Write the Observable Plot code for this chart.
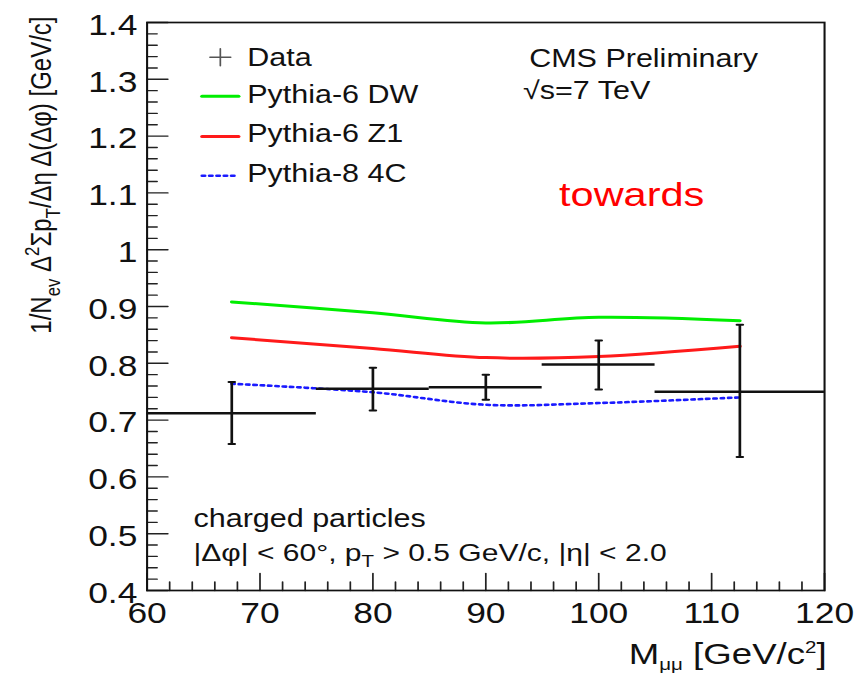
<!DOCTYPE html>
<html><head><meta charset="utf-8">
<script src="https://cdn.jsdelivr.net/npm/d3@7"></script>
<script src="https://cdn.jsdelivr.net/npm/@observablehq/plot@0.6"></script>
<style>
html,body{margin:0;padding:0;background:#fff;}
#chart svg{display:block;}
</style></head><body><div id="chart"></div>
<script>
// ---- data ----
const massCenters = [67.5, 80, 90, 100, 112.5];
const binLow      = [60, 75, 85, 95, 105];
const binHigh     = [75, 85, 95, 105, 120];
const dataValues  = [0.712, 0.755, 0.758, 0.798, 0.750];
const errLow      = [0.658, 0.717, 0.736, 0.754, 0.635];
const errHigh     = [0.767, 0.792, 0.780, 0.840, 0.868];
const dwValues    = [0.908, 0.889, 0.871, 0.881, 0.875];
const z1Values    = [0.845, 0.826, 0.810, 0.812, 0.830];
const c4Values    = [0.764, 0.749, 0.727, 0.730, 0.740];
const seriesNames = ["Pythia-6 DW", "Pythia-6 Z1", "Pythia-8 4C"];
const seriesColors = ["#00ee00", "#ff1a1a", "#1a1aff"];

const yTickValues = [0.4, 0.5, 0.6, 0.7, 0.8, 0.9, 1.0, 1.1, 1.2, 1.3, 1.4];
const yTickLabels = ["0.4", "0.5", "0.6", "0.7", "0.8", "0.9", "1", "1.1", "1.2", "1.3", "1.4"];
const xTickValues = [60, 70, 80, 90, 100, 110, 120];
const xTickLabels = ["60", "70", "80", "90", "100", "110", "120"];
const yMinor = d3.range(0, 51).map(i => 0.4 + i * 0.02).filter(v => Math.abs(v * 10 - Math.round(v * 10)) > 1e-6);
const xMinor = d3.range(60, 121, 2).filter(v => v % 10 !== 0);

const points = massCenters.map((m, i) => ({m, xl: binLow[i], xh: binHigh[i], v: dataValues[i], lo: errLow[i], hi: errHigh[i]}));
const models = [dwValues, z1Values, c4Values].flatMap((vals, s) =>
  vals.map((v, i) => ({series: seriesNames[s], m: massCenters[i], v})));

// ---- layout (design space, stretched horizontally afterwards) ----
const W = 707, H = 676, OUTW = 863;
const FONT = "'Liberation Sans', Arial, Helvetica, sans-serif";
const lineShape = {draw(ctx, l) { ctx.moveTo(0, 0); ctx.lineTo(0, -l); }};
const plusShape = {draw(ctx, l) { ctx.moveTo(-l / 2, 0); ctx.lineTo(l / 2, 0); ctx.moveTo(0, -l / 2); ctx.lineTo(0, l / 2); }};
const one = [0];
const DOTS = "2.4,3.6";

const legendRows = [
  {name: seriesNames[0], color: seriesColors[0], dash: null, w: 3, dy: 73.7, tdy: 80.7},
  {name: seriesNames[1], color: seriesColors[1], dash: null, w: 3, dy: 114, tdy: 119.7},
  {name: seriesNames[2], color: seriesColors[2], dash: DOTS, w: 2.6, dy: 153.3, tdy: 159.7}
];

const marks = [
  Plot.axisY(yTickValues, {anchor: "left", tickSize: 0, tickPadding: 8, fontSize: 29, dy: 3, fill: "#111",
    tickFormat: (d) => yTickLabels[yTickValues.indexOf(d)], label: null}),
  Plot.axisX(xTickValues, {anchor: "bottom", tickSize: 0, tickPadding: 12, fontSize: 29, fill: "#111",
    tickFormat: d => xTickLabels[xTickValues.indexOf(d)], label: null}),
  // inward ROOT-style ticks
  Plot.vector(yTickValues, {x: () => 60, y: d => d, rotate: 90, length: 17, anchor: "start", shape: lineShape, stroke: "#222", strokeWidth: 1.4}),
  Plot.vector(yMinor, {x: () => 60, y: d => d, rotate: 90, length: 8.2, anchor: "start", shape: lineShape, stroke: "#222", strokeWidth: 1.4}),
  Plot.vector(xTickValues, {x: d => d, y: () => 0.4, rotate: 0, length: 17, anchor: "start", shape: lineShape, stroke: "#222", strokeWidth: 1.4}),
  Plot.vector(xMinor, {x: d => d, y: () => 0.4, rotate: 0, length: 8.5, anchor: "start", shape: lineShape, stroke: "#222", strokeWidth: 1.4}),
  // model curves
  Plot.line(models.filter(d => d.series === seriesNames[0]), {x: "m", y: "v", stroke: seriesColors[0], strokeWidth: 3, curve: "catmull-rom"}),
  Plot.line(models.filter(d => d.series === seriesNames[1]), {x: "m", y: "v", stroke: seriesColors[1], strokeWidth: 3, curve: "catmull-rom"}),
  Plot.line(models.filter(d => d.series === seriesNames[2]), {x: "m", y: "v", stroke: seriesColors[2], strokeWidth: 2.6, strokeDasharray: DOTS, curve: "catmull-rom"}),
  // data with error bars
  Plot.ruleY(points, {y: "v", x1: "xl", x2: "xh", stroke: "#111", strokeWidth: 2.5}),
  Plot.ruleX(points, {x: "m", y1: "lo", y2: "hi", stroke: "#111", strokeWidth: 2.2}),
  Plot.vector(points, {x: "m", y: "lo", rotate: 90, length: 5, anchor: "middle", shape: lineShape, stroke: "#111", strokeWidth: 2}),
  Plot.vector(points, {x: "m", y: "hi", rotate: 90, length: 5, anchor: "middle", shape: lineShape, stroke: "#111", strokeWidth: 2}),
  Plot.frame({stroke: "#111", strokeWidth: 1.7}),
  // legend
  Plot.vector(one, {frameAnchor: "top-left", dx: 60, dy: 34.7, length: 17, anchor: "start", shape: plusShape, stroke: "#555", strokeWidth: 1.4}),
  Plot.text(["Data"], {frameAnchor: "top-left", dx: 82, dy: 43, text: d => d, textAnchor: "start", lineAnchor: "bottom", fontSize: 25, fill: "#111"}),
  ...legendRows.flatMap(r => [
    Plot.vector(one, {frameAnchor: "top-left", dx: 45, dy: r.dy, rotate: 90, length: 30, anchor: "start", shape: lineShape, stroke: r.color, strokeWidth: r.w, strokeDasharray: r.dash}),
    Plot.text([r.name], {frameAnchor: "top-left", dx: 82, dy: r.tdy, text: d => d, textAnchor: "start", lineAnchor: "bottom", fontSize: 25, fill: "#111"})
  ]),
  // annotations
  Plot.text(["CMS Preliminary"], {frameAnchor: "top-left", dx: 313, dy: 44.7, text: d => d, textAnchor: "start", lineAnchor: "bottom", fontSize: 25, fill: "#111"}),
  Plot.text(["√s=7 TeV"], {frameAnchor: "top-left", dx: 308, dy: 76.3, text: d => d, textAnchor: "start", lineAnchor: "bottom", fontSize: 25, fill: "#111"}),
  Plot.text(["towards"], {frameAnchor: "top-left", dx: 337.5, dy: 183, text: d => d, textAnchor: "start", lineAnchor: "bottom", fontSize: 34, fill: "#ff0000"}),
  Plot.text(["charged particles"], {frameAnchor: "top-left", dx: 38, dy: 504, text: d => d, textAnchor: "start", lineAnchor: "bottom", fontSize: 25, fill: "#111"}),
  Plot.text(["|Δφ| < 60°, p_{T} > 0.5 GeV/c, |η| < 2.0"], {frameAnchor: "top-left", dx: 38, dy: 538, text: d => d, textAnchor: "start", lineAnchor: "bottom", fontSize: 24.6, fill: "#111"}),
  // axis titles
  Plot.text(["M_{μμ} [GeV/c^{2}]"], {frameAnchor: "bottom-right", dx: 1.7, dy: 73, text: d => d, textAnchor: "end", lineAnchor: "bottom", fontSize: 30, fill: "#111"}),
  Plot.text(["1/N_{ev} Δ^{2}Σp_{T}/Δη Δ(Δφ) [GeV/c]"], {frameAnchor: "top-left", dx: -86, dy: -6, rotate: -90, text: d => d, textAnchor: "end", lineAnchor: "middle", fontSize: 24, fill: "#111"})
];

const chart = Plot.plot({
  width: W, height: H,
  marginLeft: 120, marginRight: 32, marginTop: 22, marginBottom: 86,
  style: {fontFamily: FONT, background: "#fff", color: "#111"},
  x: {domain: [60, 120], axis: null},
  y: {domain: [0.4, 1.4], axis: null},
  marks
});

// sub/superscripts as tspans
function richify(svg) {
  d3.select(svg).selectAll("text").each(function () {
    const el = this;
    const s = el.textContent;
    if (!/[_^]\{/.test(s)) return;
    const fs = parseFloat(getComputedStyle(el).fontSize) || 24;
    const parts = []; let last = 0; let m; const re = /([_^])\{([^}]*)\}/g;
    while ((m = re.exec(s))) {
      if (m.index > last) parts.push({t: s.slice(last, m.index), k: ""});
      parts.push({t: m[2], k: m[1]}); last = re.lastIndex;
    }
    if (last < s.length) parts.push({t: s.slice(last), k: ""});
    el.textContent = "";
    let shift = 0;
    for (const p of parts) {
      const target = p.k === "_" ? 0.28 * fs : p.k === "^" ? -0.42 * fs : 0;
      const ts = document.createElementNS("http://www.w3.org/2000/svg", "tspan");
      if (target - shift !== 0) ts.setAttribute("dy", (target - shift).toFixed(2));
      shift = target;
      if (p.k) ts.setAttribute("font-size", (0.7 * fs).toFixed(2));
      ts.textContent = p.t;
      el.appendChild(ts);
    }
  });
}
richify(chart);

// horizontal stretch of the whole drawing, as in the reference
chart.setAttribute("width", OUTW);
chart.setAttribute("height", H);
chart.setAttribute("viewBox", `0 0 ${W} ${H}`);
chart.setAttribute("preserveAspectRatio", "none");
chart.style.width = OUTW + "px";
chart.style.height = H + "px";
chart.style.maxWidth = "none";
document.getElementById("chart").appendChild(chart);
</script></body></html>
